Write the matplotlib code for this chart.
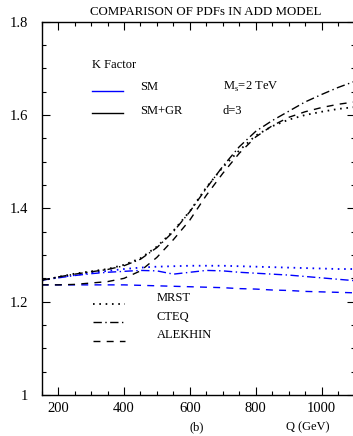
import matplotlib
matplotlib.use('Agg')
import matplotlib.pyplot as plt
from matplotlib.ticker import MultipleLocator

plt.rcParams['font.family'] = ['Liberation Serif', 'DejaVu Serif']
plt.rcParams['font.size'] = 10.5

# invariant mass grid (GeV)
Q = [150, 200, 250, 300, 350, 400, 450, 500, 550, 600,
     650, 700, 750, 800, 850, 900, 950, 1000, 1050, 1100]

# K factor, SM only
sm_mrst = [1.246, 1.252, 1.257, 1.262, 1.266, 1.270, 1.273, 1.275, 1.276, 1.277,
           1.277, 1.277, 1.276, 1.275, 1.274, 1.273, 1.272, 1.271, 1.270, 1.270]
sm_cteq = [1.246, 1.251, 1.256, 1.260, 1.263, 1.265, 1.267, 1.266, 1.259, 1.263,
           1.267, 1.266, 1.263, 1.261, 1.259, 1.257, 1.254, 1.251, 1.248, 1.245]
sm_alekhin = [1.236, 1.236, 1.236, 1.236, 1.236, 1.236, 1.235, 1.234, 1.233, 1.232,
              1.231, 1.230, 1.228, 1.227, 1.225, 1.224, 1.222, 1.221, 1.220, 1.219]

# K factor, SM + gravity (Ms = 2 TeV, d = 3)
gr_mrst = [1.245, 1.253, 1.260, 1.265, 1.270, 1.279, 1.293, 1.318, 1.352, 1.394,
           1.445, 1.488, 1.524, 1.556, 1.576, 1.590, 1.600, 1.607, 1.613, 1.617]
gr_cteq = [1.246, 1.253, 1.259, 1.264, 1.269, 1.277, 1.291, 1.316, 1.350, 1.393,
           1.443, 1.490, 1.532, 1.565, 1.588, 1.608, 1.628, 1.644, 1.659, 1.672]
gr_alekhin = [1.236, 1.236, 1.237, 1.240, 1.243, 1.250, 1.266, 1.295, 1.333, 1.375,
              1.428, 1.475, 1.518, 1.553, 1.577, 1.595, 1.607, 1.616, 1.623, 1.628]

dotted = (0, (0.9, 2.6))
dashdot = (0, (6, 2.5, 1, 2.5))
dashed = (0, (5, 4.5))

fig = plt.figure(figsize=(3.53, 4.36), dpi=100)
ax = fig.add_axes([41.7 / 353, 1 - 395 / 436, 312.8 / 353, 373.3 / 436])

ax.plot(Q, sm_mrst, color='blue', lw=1.3, ls=dotted)
ax.plot(Q, sm_cteq, color='blue', lw=1.0, ls=dashdot)
ax.plot(Q, sm_alekhin, color='blue', lw=1.0, ls=dashed)
ax.plot(Q, gr_mrst, color='black', lw=1.3, ls=dotted)
ax.plot(Q, gr_cteq, color='black', lw=1.0, ls=dashdot)
ax.plot(Q, gr_alekhin, color='black', lw=1.0, ls=dashed)

# legend drawn by hand inside the frame
ax.plot([303, 397], [1.651, 1.651], color='blue', lw=1)
ax.plot([303, 397], [1.604, 1.604], color='black', lw=1)
ax.text(303, 1.707, 'K Factor', va='center', fontsize=9)
ax.text(450, 1.660, 'SM', va='center', fontsize=9)
ax.text(450, 1.608, 'SM+GR', va='center', fontsize=9)
ax.text(700, 1.660, r'M$_\mathregular{s}$=2 TeV', va='center', fontsize=9)
ax.text(700, 1.608, 'd=3', va='center', fontsize=9)

ax.plot([305, 403], [1.195, 1.195], color='black', lw=1.3, ls=dotted)
ax.plot([305, 403], [1.157, 1.157], color='black', lw=1.0, ls=dashdot)
ax.plot([305, 403], [1.116, 1.116], color='black', lw=1.0, ls=dashed)
ax.text(500, 1.208, 'MRST', va='center', fontsize=9)
ax.text(500, 1.167, 'CTEQ', va='center', fontsize=9)
ax.text(500, 1.129, 'ALEKHIN', va='center', fontsize=9)

ax.set_xlim(150, 1100)
ax.set_ylim(1.0, 1.8)
ax.set_xticks([200, 400, 600, 800, 1000])
ax.set_yticks([1.0, 1.2, 1.4, 1.6, 1.8])
ax.set_yticklabels(['1', '1.2', '1.4', '1.6', '1.8'])
ax.xaxis.set_minor_locator(MultipleLocator(50))
ax.yaxis.set_minor_locator(MultipleLocator(0.05))
ax.tick_params(which='both', direction='in', top=True, right=True, width=0.8)
ax.tick_params(which='major', length=6, pad=5)
ax.tick_params(which='minor', length=3)
ax.tick_params(axis='y', pad=10)
for s in ax.spines.values():
    s.set_linewidth(1.0)

fig.text(206 / 353, 1 - 12 / 436, 'COMPARISON OF PDFs IN ADD MODEL',
         ha='center', va='center', fontsize=9.3)
fig.text(197 / 353, 1 - 427 / 436, '(b)', ha='center', va='center', fontsize=9)
fig.text(308 / 353, 1 - 427 / 436, 'Q (GeV)', ha='center', va='center', fontsize=9)

fig.savefig('out.png', dpi=100)
